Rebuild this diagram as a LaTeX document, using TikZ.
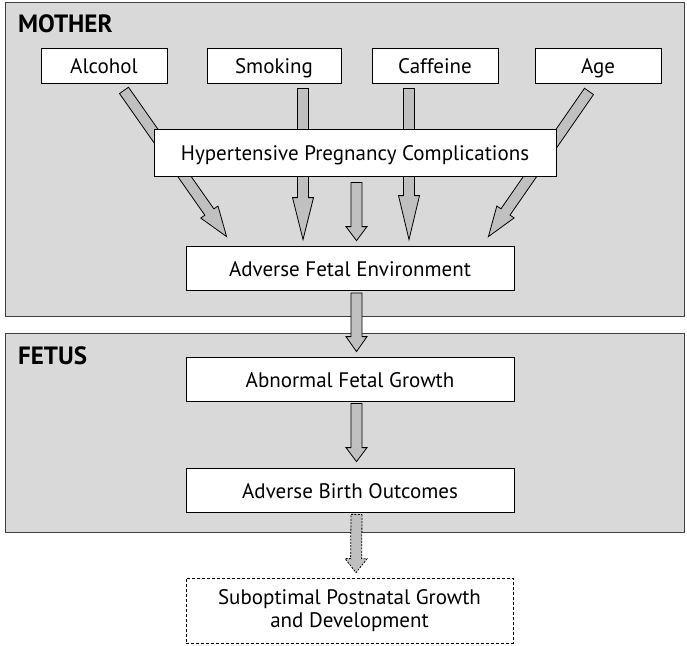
\documentclass[tikz,border=0pt]{standalone}
\usepackage{fontspec}
\setmainfont{PT Sans}
\usetikzlibrary{calc}
\definecolor{panelfill}{HTML}{D9D9D9}
\definecolor{panelline}{HTML}{404040}
\definecolor{arrowfill}{HTML}{C0C0C0}
\tikzset{
  panel/.style={draw=panelline, line width=1.1pt, fill=panelfill, anchor=north west, inner sep=0pt},
  panellabel/.style={font=\fontsize{25}{28}\selectfont\bfseries, anchor=west, inner sep=0pt},
  txt/.style={font=\fontsize{21}{24}\selectfont, text height=18pt, text depth=2pt},
  factorbox/.style={txt, draw=black, line width=0.8pt, fill=white, inner sep=0pt, minimum height=35pt},
  wbox/.style={txt, draw=black, line width=0.8pt, fill=white, inner sep=0pt, minimum width=328pt, minimum height=44pt},
  dbox/.style={draw=black, line width=0.7pt, dash pattern=on 3pt off 2pt, fill=white, inner sep=0pt, minimum width=327pt, minimum height=65pt, align=center, font=\fontsize{21}{24}\selectfont},
  arrowbody/.style={draw=black, line width=0.8pt, fill=arrowfill, line join=miter},
  dashedarrow/.style={dash pattern=on 2pt off 1.3pt}
}
% #1 options, #2 start, #3 tip, #4 shaft half width, #5 head half width, #6 head length
\newcommand\blockarrow[6][]{%
  \coordinate (ba-h) at ($(#3)!#6!(#2)$);
  \draw[arrowbody,#1] ($(#2)!#4!90:(#3)$) -- ($(ba-h)!#4!90:(#3)$) -- ($(ba-h)!#5!90:(#3)$) -- (#3)
    -- ($(ba-h)!#5!-90:(#3)$) -- ($(ba-h)!#4!-90:(#3)$) -- ($(#2)!#4!-90:(#3)$) -- cycle;
}
\begin{document}
\begin{tikzpicture}[x=1pt,y=-1pt]
\useasboundingbox (0,0) rectangle (687,645);
\fill[white] (0,0) rectangle (687,645);
% panels
\node[panel, minimum width=679pt, minimum height=314pt] (mother) at (5,2) {};
\node[panel, minimum width=679pt, minimum height=199pt] (fetus) at (5,333) {};
\node[panellabel] (motherlbl) at (18,24) {MOTHER};
\node[panellabel] (fetuslbl) at (18,355.5) {FETUS};
% factor boxes
\node[factorbox, minimum width=126pt] (alcohol) at (104,65.5) {Alcohol};
\node[factorbox, minimum width=134pt] (smoking) at (274,65.5) {Smoking};
\node[factorbox, minimum width=126pt] (caffeine) at (435,65.5) {Caffeine};
\node[factorbox, minimum width=126pt] (age) at (598,65.5) {Age};
% outcome boxes
\node[wbox] (afe) at (350,268) {Adverse Fetal Environment};
\node[wbox] (afg) at (350,379) {Abnormal Fetal Growth};
\node[wbox] (abo) at (350,490) {Adverse Birth Outcomes};
\node[dbox] (spg) at (349.5,610.5) {Suboptimal Postnatal Growth\\[-1pt]and Development};
% arrow end points
\coordinate (alcS) at ($(alcohol.south)+(20,7)$);
\coordinate (alcT) at ($(afe.north west)+(41,-9)$);
\coordinate (smoS) at ($(smoking.south)+(29,5)$);
\coordinate (smoT) at ($(afe.north)+(-47,-6)$);
\coordinate (cafS) at ($(caffeine.south)+(-26,5)$);
\coordinate (cafT) at ($(afe.north)+(59,-6)$);
\coordinate (ageS) at ($(age.south)+(-9,8)$);
\coordinate (ageT) at ($(afe.north east)+(-26,-9)$);
% arrows behind the hypertension box
\blockarrow{alcS}{alcT}{5.5pt}{10.5pt}{30pt}
\blockarrow{smoS}{smoT}{5.5pt}{10.5pt}{42pt}
\blockarrow{cafS}{cafT}{5.5pt}{10.5pt}{44pt}
\blockarrow{ageS}{ageT}{5.5pt}{10.5pt}{30pt}
% hypertension box
\node[factorbox, minimum width=402pt, minimum height=47pt] (hpc) at (355,152.5) {Hypertensive Pregnancy Complications};
\coordinate (hpcS) at ($(hpc.south)+(1.5,6)$);
\coordinate (hpcT) at ($(afe.north)+(6.5,-5)$);
\blockarrow{hpcS}{hpcT}{5.5pt}{10.5pt}{14pt}
% vertical chain
\coordinate (afeS) at ($(afe.south)+(6.5,2.5)$);
\coordinate (afgT) at ($(afg.north)+(6.5,-5)$);
\blockarrow{afeS}{afgT}{5.5pt}{10.5pt}{15pt}
\coordinate (afgS) at ($(afg.south)+(6.5,2)$);
\coordinate (aboT) at ($(abo.north)+(6.5,-6)$);
\blockarrow{afgS}{aboT}{5.5pt}{10.5pt}{14pt}
\coordinate (aboS) at ($(abo.south)+(6.5,2)$);
\coordinate (spgT) at ($(spg.north)+(6.5,-5)$);
\blockarrow[dashedarrow]{aboS}{spgT}{5.5pt}{11pt}{14pt}
\end{tikzpicture}
\end{document}
